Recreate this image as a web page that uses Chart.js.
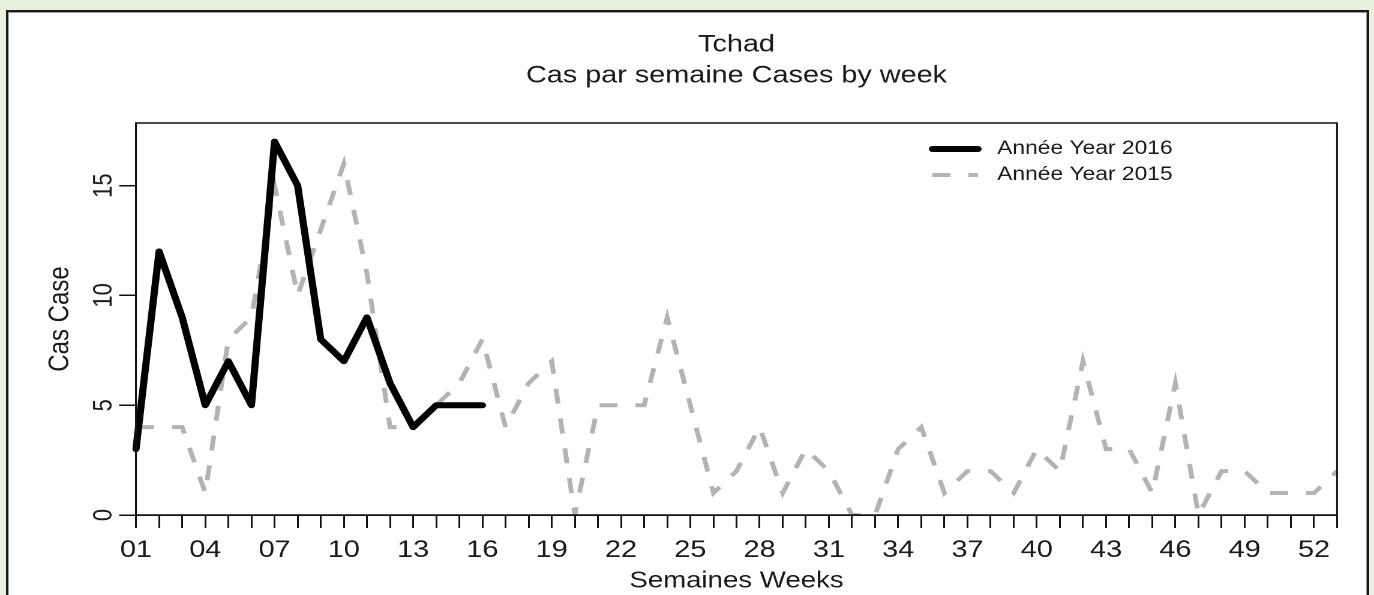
<!DOCTYPE html>
<html>
<head>
<meta charset="utf-8">
<script src="https://cdn.jsdelivr.net/npm/chart.js@4.4.1/dist/chart.umd.min.js"></script>
<style>
  html, body { margin: 0; padding: 0; }
  body { width: 1374px; height: 595px; background: #e9f1dc; position: relative; overflow: hidden; }
  #panel { position: absolute; left: 6px; top: 10px; width: 1359px; height: 620px;
           background: #fff; border: 2px solid #1a1a1a; box-shadow: inset 0 0 0 1px #9a9a9a; }
  #chart { position: absolute; left: 0; top: 0; }
</style>
</head>
<body>
<div id="panel"></div>
<!-- the reference is stretched sideways, so the canvas is drawn narrower and widened by css -->
<canvas id="chart" width="1145" height="595" style="width:1374px;height:595px"></canvas>
<script>
/* ---------------- data ---------------- */
const weeks = ['01','02','03','04','05','06','07','08','09','10',
               '11','12','13','14','15','16','17','18','19','20',
               '21','22','23','24','25','26','27','28','29','30',
               '31','32','33','34','35','36','37','38','39','40',
               '41','42','43','44','45','46','47','48','49','50',
               '51','52','53'];
const cases2016 = [3, 12, 9, 5, 7, 5, 17, 15, 8, 7, 9, 6, 4, 5, 5, 5];
const cases2015 = [4, 4, 4, 1, 8, 9, 15, 10, 13, 16, 11, 4, 4, 5, 6, 8, 4, 6, 7, 0,
                   5, 5, 5, 9, 5, 1, 2, 4, 1, 3, 2, 0, 0, 3, 4, 1, 2, 2, 1, 3,
                   2, 7, 3, 3, 1, 6, 0, 2, 2, 1, 1, 1, 2];
const yTicks = [0, 5, 10, 15];
const titleLines = ['Tchad', 'Cas par semaine Cases by week'];
const xTitle = 'Semaines Weeks';
const yTitle = 'Cas Case';

const FONT = '"Liberation Sans", Arial, sans-serif';
const INK = '#1a1a1a';

/* title, box, rotated y labels and legend */
const overlay = {
    id: 'overlay',
    afterDraw(chart) {
        const ctx = chart.ctx;
        const a = chart.chartArea;
        const y = chart.scales.y;
        ctx.save();
        ctx.strokeStyle = '#111';
        ctx.lineWidth = 1.5;
        ctx.strokeRect(a.left, a.top, a.right - a.left, a.bottom - a.top);

        ctx.fillStyle = INK;
        ctx.textAlign = 'center';
        ctx.textBaseline = 'middle';
        ctx.font = '22px ' + FONT;
        y.ticks.forEach(t => {
            ctx.save();
            ctx.translate(87, y.getPixelForValue(t.value));
            ctx.rotate(-Math.PI / 2);
            ctx.fillText(String(t.value), 0, 0);
            ctx.restore();
        });

        const cx = (a.left + a.right) / 2;
        ctx.font = '24px ' + FONT;
        titleLines.forEach((s, i) => ctx.fillText(s, cx, 45 + i * 31));

        // legend
        ctx.font = '19px ' + FONT;
        ctx.textAlign = 'left';
        chart.data.datasets.forEach((ds, i) => {
            const ly = 149 + i * 26;
            ctx.save();
            ctx.strokeStyle = ds.borderColor;
            ctx.lineWidth = ds.borderWidth;
            ctx.lineCap = ds.borderCapStyle;
            ctx.setLineDash(ds.borderDash || []);
            ctx.beginPath();
            ctx.moveTo(777, ly);
            ctx.lineTo(815, ly);
            ctx.stroke();
            ctx.restore();
            ctx.fillStyle = INK;
            ctx.fillText(ds.label, 831, ly);
        });
        ctx.restore();
    }
};

const ctx = document.getElementById('chart').getContext('2d');

const myChart = new Chart(ctx, {
    type: 'line',
    data: {
        labels: weeks,
        datasets: [
        {
            label: 'Année Year 2016',
            data: cases2016,
            borderColor: '#000',
            borderWidth: 6,
            borderCapStyle: 'round',
            borderJoinStyle: 'round',
            pointRadius: 0,
            tension: 0
        },
        {
            label: 'Année Year 2015',
            data: cases2015,
            borderColor: '#b3b3b3',
            borderWidth: 4,
            borderDash: [15, 15],
            borderCapStyle: 'butt',
            pointRadius: 0,
            tension: 0
        }]
    },
    options: {
        responsive: false,
        animation: false,
        devicePixelRatio: 2,
        layout: { padding: { left: 0, right: 30.8, top: 123, bottom: 0 } },
        scales: {
            x: {
                offset: false,
                afterFit: s => { s.height = 80; },
                grid: {
                    drawOnChartArea: false,
                    tickLength: 13,
                    color: '#111',
                    lineWidth: 1.5
                },
                border: { display: true, color: '#111', width: 1.5 },
                ticks: {
                    autoSkip: false,
                    maxRotation: 0,
                    padding: 8,
                    color: INK,
                    font: { family: FONT, size: 24 },
                    callback: function (value, index) {
                        return index % 3 === 0 ? this.getLabelForValue(value) : '';
                    }
                },
                title: {
                    display: true,
                    text: xTitle,
                    color: INK,
                    font: { family: FONT, size: 23 },
                    padding: { top: 0, bottom: 0 }
                }
            },
            y: {
                min: 0,
                max: 17.85,
                afterFit: s => { s.width = 113.3; },
                afterBuildTicks: s => { s.ticks = yTicks.map(v => ({ value: v })); },
                grid: {
                    drawOnChartArea: false,
                    tickLength: 14,
                    color: '#111',
                    lineWidth: 1.5
                },
                border: { display: true, color: '#111', width: 1.5 },
                ticks: { display: false },
                title: {
                    display: true,
                    text: yTitle,
                    color: INK,
                    font: { family: FONT, size: 24 },
                    padding: { top: 36, bottom: 0 }
                }
            }
        },
        plugins: {
            legend: { display: false },
            tooltip: { enabled: false }
        }
    },
    plugins: [overlay]
});
</script>
</body>
</html>
